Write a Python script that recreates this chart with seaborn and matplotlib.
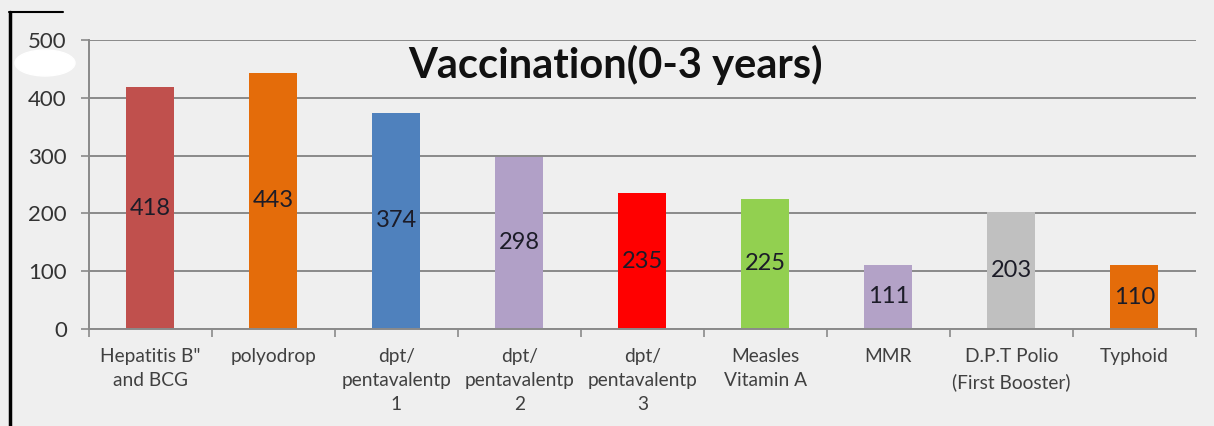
import matplotlib
matplotlib.use("Agg")
import matplotlib.pyplot as plt
import seaborn as sns
import pandas as pd
from matplotlib.lines import Line2D
from matplotlib.patches import Ellipse
from matplotlib.ticker import FixedLocator

# data
vacinas = ["Hepatitis B\"\nand BCG", "polyodrop", "dpt/\npentavalentp\n1", "dpt/\npentavalentp\n2",
           "dpt/\npentavalentp\n3", "Measles\nVitamin A", "MMR", "D.P.T Polio\n(First Booster)", "Typhoid"]
valores = [418, 443, 374, 298, 235, 225, 111, 203, 110]
cores = ["#C0504D", "#E46C0A", "#4F81BD", "#B1A0C7", "#FF0000", "#92D050", "#B3A2C7", "#C0C0C0", "#E46C0A"]
titulo = "Vaccination(0-3 years)"

df = pd.DataFrame({"Vacina": vacinas, "Total": valores})

sns.set_style("white")
plt.rcParams["font.family"] = ["Lato", "DejaVu Sans"]

fundo = "#efefef"
fig = plt.figure(figsize=(12.14, 4.26), dpi=100, facecolor=fundo)
ax = fig.add_axes([0.0733, 0.2277, 0.9117, 0.6783])
ax.set_facecolor(fundo)

sns.barplot(data=df, x="Vacina", y="Total", hue="Vacina", palette=cores,
            width=0.39, saturation=1, legend=False, linewidth=0, ax=ax)

for c in ax.containers:
    ax.bar_label(c, label_type="center", fontsize=17, color="#1c1c28")

ax.set_ylim(0, 500)
ax.set_xlim(-0.5, len(vacinas) - 0.5)
ax.set_yticks([0, 100, 200, 300, 400, 500])
ax.yaxis.grid(True, color="#8a8a8a", linewidth=1.4)
ax.set_axisbelow(True)
ax.set_xlabel("")
ax.set_ylabel("")

for lado in ["top", "right"]:
    ax.spines[lado].set_visible(False)
for lado in ["left", "bottom"]:
    ax.spines[lado].set_color("#8a8a8a")
    ax.spines[lado].set_linewidth(1.4)

ax.tick_params(axis="y", length=6, width=1.2, color="#8a8a8a", labelsize=16, labelcolor="#333333", pad=10, left=True)
ax.tick_params(axis="x", which="major", length=0, labelsize=13.8, labelcolor="#404040", pad=14)
ax.xaxis.set_minor_locator(FixedLocator([i - 0.5 for i in range(len(vacinas) + 1)]))
ax.tick_params(axis="x", which="minor", length=6, width=1.2, color="#8a8a8a", bottom=True)
for t in ax.get_xticklabels():
    t.set_linespacing(1.5)

ax.text(0.476, 0.915, titulo, transform=ax.transAxes, ha="center", va="center",
        fontsize=30, fontweight="bold", color="#111111")

# moldura preta parcial e mancha branca
fig.add_artist(Line2D([10 / 1214, 10 / 1214], [0, 1 - 12 / 426], color="black", linewidth=2.5))
fig.add_artist(Line2D([9 / 1214, 63 / 1214], [1 - 12 / 426, 1 - 12 / 426], color="black", linewidth=1.5))
fig.add_artist(Ellipse((45 / 1214, 1 - 63 / 426), 60 / 1214, 26 / 426, color="white", transform=fig.transFigure))

fig.savefig("out.png", dpi=100, facecolor=fundo)
